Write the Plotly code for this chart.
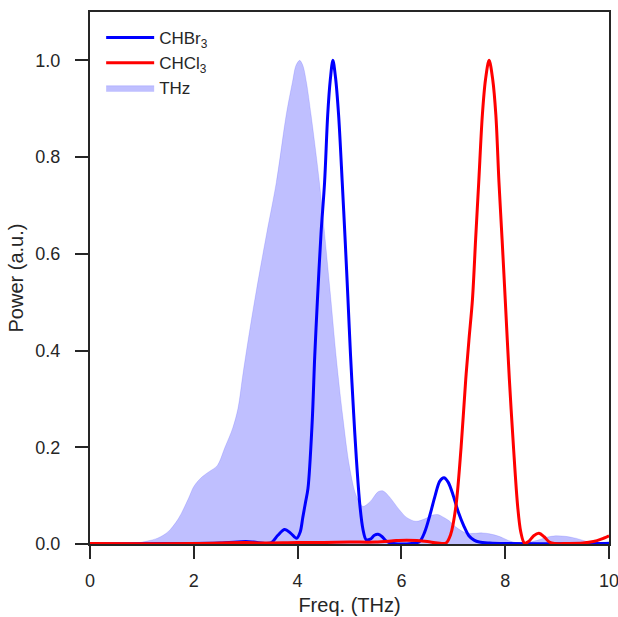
import plotly.graph_objects as go

# THz spectrum (filled)
thz_x = [0, 0.5, 0.9, 1.1, 1.3, 1.5, 1.7, 1.9, 2.0, 2.15, 2.3, 2.45, 2.6, 2.75, 2.85, 2.95,
         3.08, 3.21, 3.4, 3.59, 3.78, 3.9, 3.97, 4.04, 4.1, 4.17, 4.26, 4.42, 4.62, 4.75, 4.87,
         5.0, 5.13, 5.26, 5.4, 5.55, 5.64, 5.75, 5.96, 6.1, 6.28, 6.45, 6.6, 6.7, 6.8, 6.92,
         7.05, 7.24, 7.4, 7.56, 7.7, 7.88, 8.05, 8.2, 8.4, 8.6, 8.8, 8.97, 9.15, 9.36,
         9.55, 9.68, 9.85, 10]
thz_y = [0, 0, 0.002, 0.006, 0.012, 0.025, 0.052, 0.095, 0.119, 0.138, 0.15, 0.162, 0.2, 0.24,
         0.28, 0.354, 0.444, 0.527, 0.64, 0.748, 0.887, 0.955, 0.99, 1.0, 0.99, 0.955, 0.887,
         0.748, 0.53, 0.38, 0.264, 0.16, 0.1, 0.078, 0.088, 0.108, 0.11, 0.1, 0.071, 0.055,
         0.047, 0.052, 0.06, 0.061, 0.056, 0.048, 0.035, 0.023, 0.022, 0.023, 0.021, 0.016,
         0.008, 0.003, 0.003, 0.007, 0.014, 0.017, 0.016, 0.012, 0.006, 0.003, 0.003, 0.005]

# CHBr3
br_x = [0, 1.5, 2.5, 3.0, 3.15, 3.4, 3.5, 3.62, 3.75, 3.87, 3.98, 4.05, 4.1, 4.15, 4.2, 4.28,
        4.33, 4.38, 4.45, 4.52, 4.58, 4.63, 4.68, 4.73, 4.79, 4.86, 4.92, 4.97, 5.02, 5.08,
        5.13, 5.2, 5.26, 5.32, 5.4, 5.48, 5.55, 5.63, 5.72, 5.85, 6.2, 6.35, 6.45, 6.55, 6.65,
        6.74, 6.82, 6.9, 7.0, 7.1, 7.2, 7.3, 7.4, 7.5, 7.7, 8.0, 10]
br_y = [0, 0.001, 0.002, 0.005, 0.004, 0.001, 0.003, 0.018, 0.03, 0.022, 0.012, 0.025, 0.055,
        0.085, 0.115, 0.25, 0.388, 0.5, 0.64, 0.748, 0.887, 0.96, 1.0, 0.965, 0.887, 0.748,
        0.62, 0.507, 0.39, 0.27, 0.18, 0.08, 0.03, 0.009, 0.01, 0.018, 0.02, 0.015, 0.005,
        0.001, 0.001, 0.005, 0.025, 0.06, 0.1, 0.13, 0.137, 0.128, 0.1, 0.065, 0.038, 0.017,
        0.008, 0.004, 0.002, 0.001, 0.001]

# CHCl3
cl_x = [0, 2, 3, 3.3, 4, 4.5, 5, 5.5, 5.9, 6.1, 6.3, 6.5, 6.7, 6.86, 6.95, 7.05, 7.15, 7.24,
        7.3, 7.37, 7.43, 7.49, 7.56, 7.62, 7.69, 7.76, 7.82, 7.88, 7.94, 8.0, 8.08, 8.16, 8.24,
        8.3, 8.37, 8.45, 8.55, 8.65, 8.75, 8.85, 8.95, 9.2, 9.5, 9.7, 9.85, 10]
cl_y = [0.001, 0.001, 0.003, 0.002, 0.003, 0.003, 0.004, 0.004, 0.007, 0.008, 0.007, 0.005,
        0.002, 0.002, 0.02, 0.078, 0.2, 0.341, 0.42, 0.507, 0.63, 0.748, 0.887, 0.96, 1.0,
        0.96, 0.887, 0.748, 0.63, 0.507, 0.341, 0.2, 0.078, 0.025, 0.002, 0.005, 0.017, 0.022,
        0.015, 0.004, 0.001, 0.001, 0.002, 0.005, 0.01, 0.017]

x_ticks = [0, 2, 4, 6, 8, 10]
y_ticks = [0.0, 0.2, 0.4, 0.6, 0.8, 1.0]

FONT = "Liberation Sans, Arial, sans-serif"
TXT = "#262626"

fig = go.Figure()
fig.add_trace(go.Scatter(x=thz_x, y=thz_y, name="THz", mode="lines", fill="tozeroy",
                         line=dict(color="rgba(0,0,255,0.25)", width=0.5, shape="spline", smoothing=0.9),
                         fillcolor="rgba(0,0,255,0.25)", legendrank=3))
fig.add_trace(go.Scatter(x=br_x, y=br_y, name="CHBr<sub>3</sub>", mode="lines",
                         line=dict(color="#0000ff", width=3, shape="spline", smoothing=0.9),
                         legendrank=1))
fig.add_trace(go.Scatter(x=cl_x, y=cl_y, name="CHCl<sub>3</sub>", mode="lines",
                         line=dict(color="#ff0000", width=3, shape="spline", smoothing=0.9),
                         legendrank=2))

axis_common = dict(showline=True, linecolor=TXT, linewidth=2.3, mirror=True, ticks="outside",
                   ticklen=13, tickwidth=2, tickcolor=TXT, showgrid=False, zeroline=False,
                   automargin=False, ticklabeloverflow="allow",
                   tickfont=dict(family=FONT, size=18, color=TXT),
                   title_font=dict(family=FONT, size=20, color=TXT))

fig.update_layout(
    width=618, height=617,
    margin=dict(l=90, r=9, t=12, b=73, autoexpand=False),
    plot_bgcolor="white", paper_bgcolor="white",
    xaxis=dict(range=[0, 10], tickvals=x_ticks, ticktext=[str(v) for v in x_ticks],
               ticklabelstandoff=6,
               title=dict(text="Freq. (THz)", standoff=8), **axis_common),
    yaxis=dict(range=[0, 1.1], tickvals=y_ticks, ticktext=[f"{v:.1f}" for v in y_ticks],
               ticklabelstandoff=11,
               title=dict(text="Power (a.u.)", standoff=6), **axis_common),
    legend=dict(x=0.0215, y=0.985, xanchor="left", yanchor="top", bgcolor="rgba(0,0,0,0)",
                font=dict(family=FONT, size=17, color=TXT), tracegroupgap=0, itemwidth=48),
    showlegend=True,
)

fig.write_html("out.html", config={"displayModeBar": False},
               post_script="document.body.style.margin='0';document.body.style.padding='0';"
                           "document.body.style.overflow='hidden';")
